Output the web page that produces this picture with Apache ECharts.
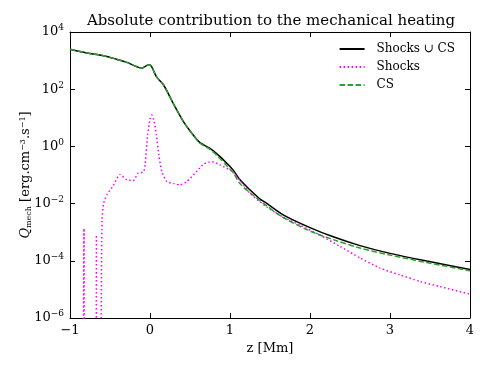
<!DOCTYPE html>
<html>
<head>
    <meta charset="utf-8" />
    <title>Mechanical heating</title>
    <script src="https://cdn.jsdelivr.net/npm/echarts@6/dist/echarts.min.js"></script>
</head>
<body style="margin:0;background:#fff">
<div id="main" style="width:488px;height:366px;"></div>
<script type="text/javascript">
    // z [Mm] and Q_mech values
    var zTotal = [-1.0, -0.85, -0.71, -0.58, -0.42, -0.29, -0.17, -0.10, -0.05, -0.01, 0.02, 0.08, 0.17, 0.29, 0.42, 0.54, 0.625,
        0.75, 0.875, 0.96, 1.04, 1.125, 1.25, 1.375, 1.46, 1.67, 2.0, 2.29, 2.625, 3.0, 3.46, 4.0];
    var qTotal = [2.5e3, 2.0e3, 1.7e3, 1.48e3, 1.12e3, 8.7e2, 6.2e2, 5.4e2, 6.5e2, 7.1e2, 6.2e2, 2.75e2, 1.4e2, 32, 7.2, 2.5, 1.35,
        0.85, 0.44, 0.257, 0.148, 0.068, 0.0302, 0.0145, 0.0102, 3.98e-3, 1.45e-3, 6.9e-4, 3.4e-4, 1.82e-4, 9.8e-5, 5.0e-5];

    var zCS = [-1.0, -0.85, -0.71, -0.58, -0.42, -0.29, -0.17, -0.10, -0.05, -0.01, 0.02, 0.08, 0.17, 0.29, 0.42, 0.54, 0.625,
        0.75, 0.83, 0.96, 1.04, 1.125, 1.25, 1.46, 1.67, 2.0, 2.29, 2.625, 3.0, 3.46, 4.0];
    var qCS = [2.5e3, 2.0e3, 1.7e3, 1.48e3, 1.12e3, 8.7e2, 6.2e2, 5.4e2, 6.5e2, 7.1e2, 6.2e2, 2.75e2, 1.4e2, 32, 7.2, 2.5, 1.3,
        0.79, 0.50, 0.21, 0.12, 0.05, 0.024, 8.3e-3, 3.2e-3, 1.1e-3, 5.5e-4, 2.8e-4, 1.58e-4, 8.7e-5, 4.5e-5];

    // shocks: negative / tiny values fall below the axis (1e-9 placeholders)
    var zShocks = [-0.835, -0.825, -0.815, -0.675, -0.67, -0.665, -0.625, -0.60, -0.58, -0.54, -0.46, -0.375, -0.29, -0.21, -0.15,
        -0.08, -0.06, -0.03, 0.0, 0.02, 0.05, 0.08, 0.11, 0.15, 0.21, 0.30, 0.375, 0.46, 0.58, 0.67, 0.77, 0.875, 1.04, 1.25,
        1.46, 1.67, 1.875, 2.125, 2.375, 2.625, 2.875, 3.125, 3.375, 3.625, 4.0];
    var qShocks = [1e-9, 1.35e-3, 1e-9, 1e-9, 8e-4, 1e-9, 1e-9, 2.7e-3, 1.0e-2, 2.0e-2, 4.2e-2, 0.105, 6.8e-2, 6.3e-2, 0.115,
        0.13, 0.25, 2.5, 8.9, 12.6, 7.9, 2.5, 0.5, 0.126, 0.059, 0.05, 0.045, 0.059, 0.13, 0.24, 0.295, 0.224, 0.126, 0.023,
        7.6e-3, 3.3e-3, 1.78e-3, 7.9e-4, 3.2e-4, 1.26e-4, 5.6e-5, 3.2e-5, 1.9e-5, 1.26e-5, 6.8e-6];

    var xTicks = [-1, 0, 1, 2, 3, 4];
    var yExps = [-6, -4, -2, 0, 2, 4];

    function pairs(xs, ys) {
        var out = [];
        for (var i = 0; i < xs.length; i++) out.push([xs[i], ys[i]]);
        return out;
    }

    var serif = 'DejaVu Serif';
    var myChart = echarts.init(document.getElementById('main'));

    function ticks() {
        return {show: true, inside: true, length: 5, lineStyle: {color: '#000', width: 1}};
    }
    // extra axes on top / right only carry the inward ticks
    function tickOnly() {
        return {
            axisLine: {show: true, onZero: false, lineStyle: {color: '#000', width: 1}},
            axisTick: ticks(),
            axisLabel: {show: false},
            splitLine: {show: false}
        };
    }

    var option = {
        animation: false,
        backgroundColor: '#fff',
        title: {
            text: 'Absolute contribution to the mechanical heating',
            left: 266,
            textAlign: 'center',
            top: 9,
            textStyle: {fontFamily: serif, fontSize: 15, fontWeight: 'normal', color: '#000'}
        },
        legend: {
            orient: 'vertical',
            right: 28,
            top: 38,
            itemWidth: 25,
            itemHeight: 10,
            itemGap: 6,
            itemStyle: {opacity: 0},
            textStyle: {fontFamily: serif, fontSize: 12, color: '#000', padding: [0, 0, 0, 7]},
            data: ['Shocks \u222A CS', 'Shocks', 'CS']
        },
        grid: {left: 70, right: 18, top: 32, bottom: 48},
        xAxis: [{
            type: 'value',
            position: 'bottom',
            min: -1, max: 4, interval: 1,
            name: 'z [Mm]',
            nameLocation: 'middle',
            nameGap: 23,
            nameTextStyle: {fontFamily: serif, fontSize: 13, color: '#000'},
            axisLine: {show: true, onZero: false, lineStyle: {color: '#000', width: 1}},
            axisTick: ticks(),
            axisLabel: {
                fontFamily: serif, fontSize: 13, color: '#000', margin: 6,
                formatter: function (v) { return xTicks.indexOf(v) >= 0 ? String(v).replace('-', '\u2212') : ''; }
            },
            splitLine: {show: false}
        }, Object.assign({type: 'value', position: 'top', min: -1, max: 4, interval: 1}, tickOnly())],
        yAxis: [{
            type: 'log',
            position: 'left',
            logBase: 10,
            min: 1e-6, max: 1e4, interval: 2,
            name: '{q|Q}{sub|mech}{t| [erg.cm}{sup|\u22123}{t|.s}{sup|\u22121}{t|]}',
            nameLocation: 'middle',
            nameRotate: 90,
            nameGap: 37,
            nameMoveOverlap: false,
            nameTextStyle: {
                fontFamily: serif, fontSize: 13, color: '#000',
                rich: {
                    q: {fontFamily: serif, fontSize: 13, fontStyle: 'italic', color: '#000'},
                    sub: {fontFamily: serif, fontSize: 8, color: '#000', verticalAlign: 'bottom', padding: [5, 0, 0, 0]},
                    t: {fontFamily: serif, fontSize: 13, color: '#000'},
                    sup: {fontFamily: serif, fontSize: 8, color: '#000', verticalAlign: 'top', padding: [0, 0, 6, 0]}
                }
            },
            axisLine: {show: true, onZero: false, lineStyle: {color: '#000', width: 1}},
            axisTick: ticks(),
            axisLabel: {
                margin: 6,
                formatter: function (v) {
                    var e = Math.round(Math.log10(v));
                    if (yExps.indexOf(e) < 0) return '';
                    return '{b|10}{s|' + String(e).replace('-', '\u2212') + '}';
                },
                rich: {
                    b: {fontFamily: serif, fontSize: 13, color: '#000'},
                    s: {fontFamily: serif, fontSize: 9, color: '#000', verticalAlign: 'top', padding: [0, 0, 8, 0]}
                }
            },
            splitLine: {show: false}
        }, Object.assign({type: 'log', position: 'right', logBase: 10, min: 1e-6, max: 1e4, interval: 2}, tickOnly())],
        series: [
            {
                name: 'Shocks \u222A CS',
                type: 'line',
                data: pairs(zTotal, qTotal),
                smooth: 0.3,
                showSymbol: false, symbol: 'none',
                lineStyle: {color: '#000', width: 1.5},
                itemStyle: {color: '#000'}
            },
            {
                name: 'Shocks',
                type: 'line',
                data: pairs(zShocks, qShocks),
                smooth: 0.2,
                showSymbol: false, symbol: 'none',
                lineStyle: {color: '#ff00ff', width: 1.5, type: [1.5, 2.5]},
                itemStyle: {color: '#ff00ff'}
            },
            {
                name: 'CS',
                type: 'line',
                data: pairs(zCS, qCS),
                smooth: 0.3,
                showSymbol: false, symbol: 'none',
                lineStyle: {color: '#2e9e2e', width: 1.5, type: [5.5, 2.5]},
                itemStyle: {color: '#2e9e2e'}
            }
        ]
    };

    myChart.setOption(option);
</script>
</body>
</html>
